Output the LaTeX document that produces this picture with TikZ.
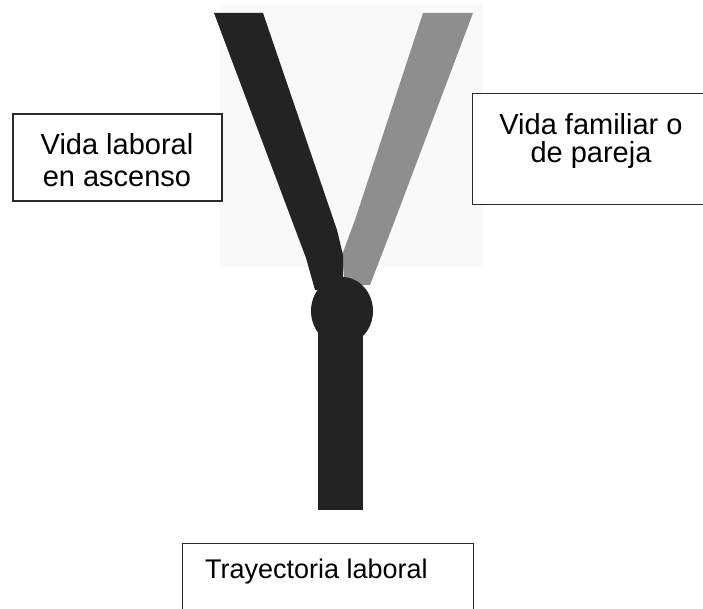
\documentclass[tikz,border=0pt]{standalone}
\usepackage{fontspec}
\setmainfont{Liberation Sans}
\usetikzlibrary{shapes.geometric}
\definecolor{darkbar}{HTML}{232323}
\definecolor{graybar}{HTML}{8E8E8E}
\definecolor{bgpale}{HTML}{F9F9F9}
\definecolor{boxline}{HTML}{2A2A2A}
\tikzset{
  txtbox/.style={draw=boxline, line width=1.4pt, fill=white, inner sep=0pt, align=center},
  bigtxt/.style={font=\fontsize{29}{32}\selectfont},
}
\begin{document}
\begin{tikzpicture}[x=1pt,y=-1pt]
\useasboundingbox (0,0) rectangle (703,609);
\clip (0,0) rectangle (703,609);
% pale background behind the Y
\fill[bgpale] (220,3) rectangle (483,267);
% grey branch (right)
\fill[graybar] (423,13) -- (473,13) -- (395,220) -- (370,285) -- (345,285) -- (342,255) -- (355,220) -- cycle;
% dark branch (left)
\fill[darkbar] (214,13) -- (263,13) -- (337,230) -- (343,255) -- (343,290) -- (315,290) -- (306,258) -- (300,242) -- cycle;
% stem
\fill[darkbar] (318,300) rectangle (363,510);
% knot
\node[ellipse, fill=darkbar, minimum width=62, minimum height=68, inner sep=0pt] (knot) at (342,311) {};
% boxes
\node[txtbox, minimum width=209, minimum height=87] (lab) at (117.5,157.5) {};
\node[bigtxt, align=center, anchor=base] (labtxt) at (117,187) {Vida laboral\\en ascenso};
\node[txtbox, minimum width=240, minimum height=111, anchor=north west] (fam) at (472,93) {};
\node[font=\fontsize{29}{28.5}\selectfont, align=center, anchor=base] (famtxt) at (591,163) {Vida familiar o\\de pareja};
\node[txtbox, minimum width=291, minimum height=80, anchor=north west] (tray) at (182,543) {};
\node[font=\fontsize{27}{30}\selectfont, anchor=base west, inner sep=0pt] (traytxt) at (205,578) {Trayectoria laboral};
\end{tikzpicture}
\end{document}
